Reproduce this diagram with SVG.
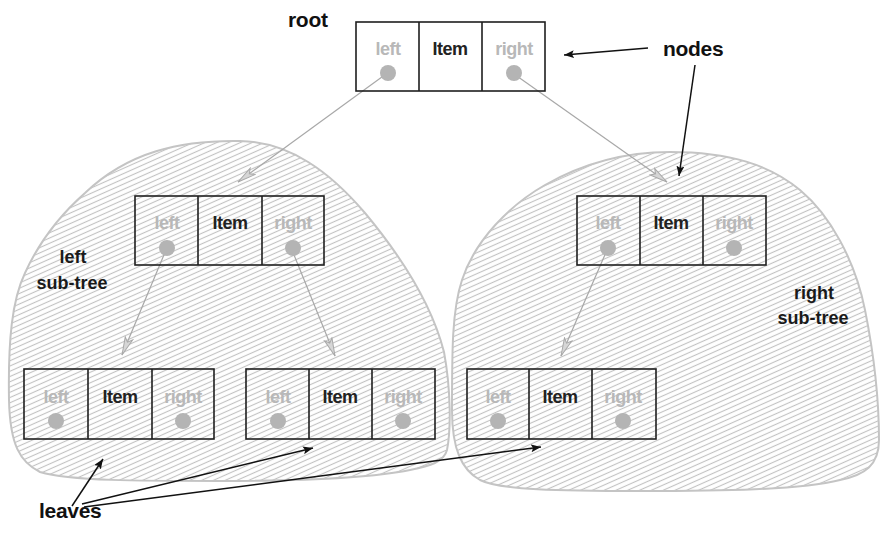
<svg xmlns="http://www.w3.org/2000/svg" width="880" height="536" viewBox="0 0 880 536">
<style>
.blob{fill:url(#hatch);stroke:#c4c4c4;stroke-width:2}
.box{fill:none;stroke:#1e1e1e;stroke-width:1.6}
.ptr{font-family:"Liberation Sans",Arial,sans-serif;font-weight:bold;font-size:18px;fill:#b8b8b8;text-anchor:middle;letter-spacing:-0.5px}
.item{font-family:"Liberation Sans",Arial,sans-serif;font-weight:bold;font-size:18px;fill:#222;text-anchor:middle;letter-spacing:-0.5px}
.dot{fill:#b4b4b4}
.lbl{font-family:"Liberation Sans",Arial,sans-serif;font-weight:bold;font-size:21px;fill:#111;letter-spacing:-0.3px}
.sub{font-family:"Liberation Sans",Arial,sans-serif;font-weight:bold;font-size:18px;fill:#1a1a1a;text-anchor:middle}
.gl{stroke:#a8a8a8;stroke-width:1.2;fill:none;marker-end:url(#garrow)}
.bl{stroke:#111;stroke-width:1.5;fill:none;marker-end:url(#barrow)}
</style>
<defs>
<pattern id="hatch" patternUnits="userSpaceOnUse" width="10" height="4.8" patternTransform="rotate(-24)">
<rect width="10" height="4.8" fill="#fff"/>
<line x1="0" y1="2.4" x2="10" y2="2.4" stroke="#c2c2c2" stroke-width="1.1"/>
</pattern>
<marker id="garrow" markerUnits="userSpaceOnUse" markerWidth="22" markerHeight="12" refX="19" refY="5" orient="auto">
<path d="M1,1 L19,5 L1,9 L5,5 Z" fill="#d6d6d6" stroke="#a8a8a8" stroke-width="1"/>
</marker>
<marker id="barrow" markerUnits="userSpaceOnUse" markerWidth="12" markerHeight="10" refX="10" refY="4" orient="auto">
<path d="M0,0 L10,4 L0,8 L2,4 Z" fill="#111"/>
</marker>
</defs>
<rect width="880" height="536" fill="#fff"/>
<g id="left-subtree">
<path class="blob" d="M40,472 C20,462 10,445 9,400 C8,340 12,300 25,273 C40,240 60,215 85,193 C128,152 180,140 240,141 C290,142 330,172 365,213 C400,255 432,305 444,352 C451,390 451,430 447,450 C444,462 430,466 410,470 C370,478 300,481 220,481 C140,481 70,481 40,472 Z"/>
</g>
<g id="right-subtree">
<path class="blob" d="M452,410 C452,350 452,310 462,280 C475,240 510,205 545,185 C580,165 620,152 670,152 C730,152 770,165 800,190 C830,215 855,260 865,310 C875,360 879,400 879,440 C879,465 865,475 840,480 C800,490 720,491 640,491 C560,491 500,490 480,480 C462,470 452,450 452,410 Z"/>
</g>
<g id="connectors">
<line class="gl" x1="386" y1="74" x2="238" y2="182"/>
<line class="gl" x1="514" y1="74" x2="667" y2="182"/>
<line class="gl" x1="166" y1="250" x2="122" y2="355"/>
<line class="gl" x1="292" y1="250" x2="335" y2="356"/>
<line class="gl" x1="607" y1="250" x2="561" y2="356"/>
<line class="bl" x1="648" y1="48" x2="564" y2="55"/>
<line class="bl" x1="695" y1="65" x2="679" y2="176"/>
<line class="bl" x1="72" y1="506" x2="103" y2="459"/>
<line class="bl" x1="82" y1="504" x2="313" y2="448"/>
<line class="bl" x1="84" y1="507" x2="541" y2="447"/>
</g>
<g id="node-root">
<rect class="box" x="356" y="22" width="189" height="69" fill="#fff"/>
<line class="box" x1="419" y1="22" x2="419" y2="91"/>
<line class="box" x1="482" y1="22" x2="482" y2="91"/>
<text class="ptr" x="388" y="55">left</text>
<text class="item" x="450" y="55">Item</text>
<text class="ptr" x="514" y="55">right</text>
<circle class="dot" cx="388" cy="73" r="8"/>
<circle class="dot" cx="514" cy="73" r="8"/>
</g>
<g id="node-left">
<rect class="box" x="135" y="196" width="189" height="69"/>
<line class="box" x1="198" y1="196" x2="198" y2="265"/>
<line class="box" x1="262" y1="196" x2="262" y2="265"/>
<text class="ptr" x="167" y="229">left</text>
<text class="item" x="230" y="229">Item</text>
<text class="ptr" x="293" y="229">right</text>
<circle class="dot" cx="167" cy="248" r="8"/>
<circle class="dot" cx="293" cy="248" r="8"/>
</g>
<g id="node-right">
<rect class="box" x="577" y="196" width="189" height="69"/>
<line class="box" x1="640" y1="196" x2="640" y2="265"/>
<line class="box" x1="703" y1="196" x2="703" y2="265"/>
<text class="ptr" x="608" y="229">left</text>
<text class="item" x="671" y="229">Item</text>
<text class="ptr" x="734" y="229">right</text>
<circle class="dot" cx="608" cy="248" r="8"/>
<circle class="dot" cx="734" cy="248" r="8"/>
</g>
<g id="leaf-1">
<rect class="box" x="24" y="369" width="190" height="70"/>
<line class="box" x1="88" y1="369" x2="88" y2="439"/>
<line class="box" x1="152" y1="369" x2="152" y2="439"/>
<text class="ptr" x="56" y="403">left</text>
<text class="item" x="120" y="403">Item</text>
<text class="ptr" x="183" y="403">right</text>
<circle class="dot" cx="56" cy="421" r="8"/>
<circle class="dot" cx="183" cy="421" r="8"/>
</g>
<g id="leaf-2">
<rect class="box" x="246" y="369" width="189" height="70"/>
<line class="box" x1="309" y1="369" x2="309" y2="439"/>
<line class="box" x1="372" y1="369" x2="372" y2="439"/>
<text class="ptr" x="278" y="403">left</text>
<text class="item" x="340" y="403">Item</text>
<text class="ptr" x="403" y="403">right</text>
<circle class="dot" cx="278" cy="421" r="8"/>
<circle class="dot" cx="403" cy="421" r="8"/>
</g>
<g id="leaf-3">
<rect class="box" x="467" y="369" width="189" height="70"/>
<line class="box" x1="529" y1="369" x2="529" y2="439"/>
<line class="box" x1="592" y1="369" x2="592" y2="439"/>
<text class="ptr" x="498" y="403">left</text>
<text class="item" x="560" y="403">Item</text>
<text class="ptr" x="623" y="403">right</text>
<circle class="dot" cx="498" cy="421" r="8"/>
<circle class="dot" cx="623" cy="421" r="8"/>
</g>
<g id="labels">
<text class="lbl" x="288" y="27">root</text>
<text class="lbl" x="663" y="56">nodes</text>
<text class="lbl" x="39" y="518">leaves</text>
<text class="sub" x="73" y="263">left</text>
<text class="sub" x="72" y="289">sub-tree</text>
<text class="sub" x="814" y="299">right</text>
<text class="sub" x="813" y="324">sub-tree</text>
</g>
</svg>
